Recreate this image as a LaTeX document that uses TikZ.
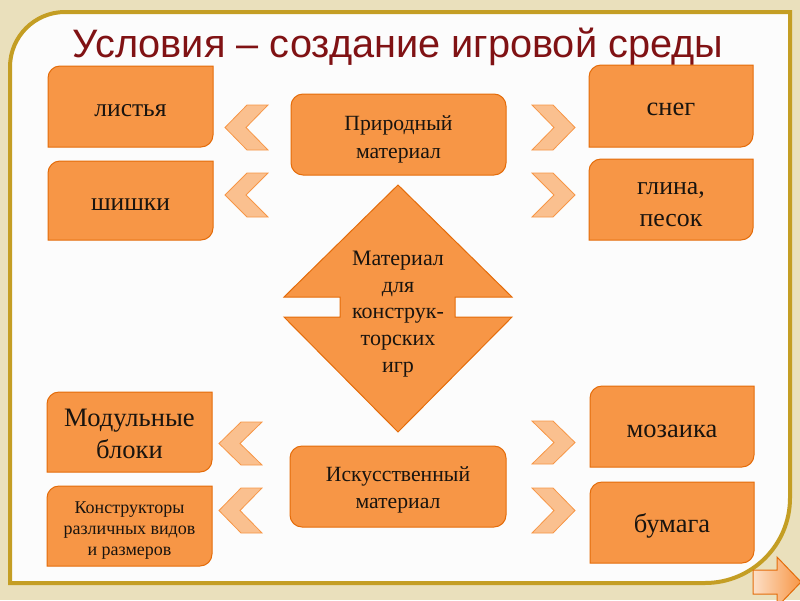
\documentclass[tikz,border=0pt]{standalone}
\usepackage{fontspec}
\setmainfont{Liberation Serif}
\newfontfamily\titlefont{Liberation Sans}
\definecolor{bgc}{RGB}{234,224,188}
\definecolor{goldc}{RGB}{196,158,36}
\definecolor{panelc}{RGB}{252,252,252}
\definecolor{orfill}{RGB}{247,150,70}
\definecolor{ordraw}{RGB}{228,108,10}
\definecolor{chfill}{RGB}{250,192,143}
\definecolor{chdraw}{RGB}{247,150,70}
\definecolor{titlec}{RGB}{128,18,20}
\definecolor{txtc}{RGB}{25,20,15}
\tikzset{
  boxshape/.style={fill=orfill,draw=ordraw,line width=1pt},
  chevshape/.style={fill=chfill,draw=chdraw,line width=0.8pt,line join=miter},
  boxtext/.style={text=txtc,align=center,inner sep=0pt},
}
% name, x1, y1, x2, y2
\newcommand\dshape[4]{%
  \draw[boxshape] (#1,-#2-12) arc[start angle=180,end angle=90,radius=12] -- (#3,-#2) -- (#3,-#4+12) arc[start angle=0,end angle=-90,radius=12] -- (#1,-#4) -- cycle;}
\newcommand\lchev[4]{%
  \draw[chevshape] (#1,{-(#2+#4)/2}) -- ({#1+22},-#2) -- (#3,-#2) -- ({#3-22},{-(#2+#4)/2}) -- (#3,-#4) -- ({#1+22},-#4) -- cycle;}
\newcommand\rchev[4]{%
  \draw[chevshape] (#3,{-(#2+#4)/2}) -- ({#3-22},-#2) -- (#1,-#2) -- ({#1+22},{-(#2+#4)/2}) -- (#1,-#4) -- ({#3-22},-#4) -- cycle;}
\begin{document}
\begin{tikzpicture}[x=1pt,y=1pt]
\useasboundingbox (0,0) rectangle (800,-600);
\clip (0,0) rectangle (800,-600);
\fill[bgc] (0,0) rectangle (800,-600);
% panel
\draw[fill=panelc,draw=goldc,line width=4pt] (10,-67) arc[start angle=180,end angle=90,radius=55] -- (790,-12) -- (790,-498) arc[start angle=0,end angle=-90,radius=85] -- (10,-583) -- cycle;
% title
\node[anchor=base,text=titlec,font=\titlefont\fontsize{39.7}{48}\selectfont,inner sep=0pt] (title) at (398,-57) {Условия – создание игровой среды};
% center boxes
\draw[boxshape,rounded corners=12pt] (291,-94) rectangle (506,-175);
\node[boxtext,font=\fontsize{21.7}{28}\selectfont] (nat) at (398.5,-139) {Природный\\материал};
\draw[boxshape,rounded corners=12pt] (290,-446) rectangle (506,-527);
\node[boxtext,font=\fontsize{21.7}{27.5}\selectfont] (art) at (398,-490) {Искусственный\\материал};
% diamond
\draw[boxshape,line join=miter] (398,-185) -- (512,-297) -- (455,-297) -- (455,-317) -- (512,-317) -- (398,-432) -- (284,-317) -- (340,-317) -- (340,-297) -- (284,-297) -- cycle;
\node[boxtext,font=\fontsize{22}{26.7}\selectfont] (mat) at (398,-314) {Материал\\для\\конструк-\\торских\\игр};
% side boxes
\dshape{48}{66}{213}{147}
\node[boxtext,anchor=base,font=\fontsize{25.5}{32}\selectfont] (leaves) at (130.5,-116) {листья};
\dshape{48}{161}{213}{240}
\node[boxtext,anchor=base,font=\fontsize{25.5}{32}\selectfont] (cones) at (130.5,-210) {шишки};
\dshape{589}{65}{753}{147}
\node[boxtext,anchor=base,font=\fontsize{26.5}{32}\selectfont] (snow) at (671,-115) {снег};
\dshape{589}{159}{753}{240}
\node[boxtext,font=\fontsize{25.8}{32}\selectfont] (clay) at (671,-205) {глина,\\песок};
\dshape{47}{392}{212}{472}
\node[boxtext,font=\fontsize{26.6}{32}\selectfont] (modul) at (129.5,-434) {Модульные\\блоки};
\dshape{47}{486}{212}{566}
\node[boxtext,font=\fontsize{18}{21}\selectfont] (constr) at (129.5,-531) {Конструкторы\\различных видов\\и размеров};
\dshape{590}{386}{754}{467}
\node[boxtext,anchor=base,font=\fontsize{26.5}{32}\selectfont] (mosaic) at (672,-437) {мозаика};
\dshape{590}{482}{754}{563}
\node[boxtext,anchor=base,font=\fontsize{26.5}{32}\selectfont] (paper) at (672,-532) {бумага};
% chevrons
\lchev{225}{105}{268}{150}
\lchev{225}{173}{268}{217}
\rchev{532}{105}{575}{150}
\rchev{532}{173}{575}{217}
\lchev{219}{422}{262}{465}
\lchev{219}{488}{262}{533}
\rchev{532}{421}{575}{464}
\rchev{532}{488}{575}{533}
% nav arrow
\shade[left color=chfill!50!white,right color=orfill] (753,-570) -- (777,-570) -- (777,-557) -- (801,-582) -- (777,-607) -- (777,-594) -- (753,-594) -- cycle;
\draw[draw=ordraw,line width=1pt] (753,-570) -- (777,-570) -- (777,-557) -- (801,-582) -- (777,-607) -- (777,-594) -- (753,-594) -- cycle;
\end{tikzpicture}
\end{document}
